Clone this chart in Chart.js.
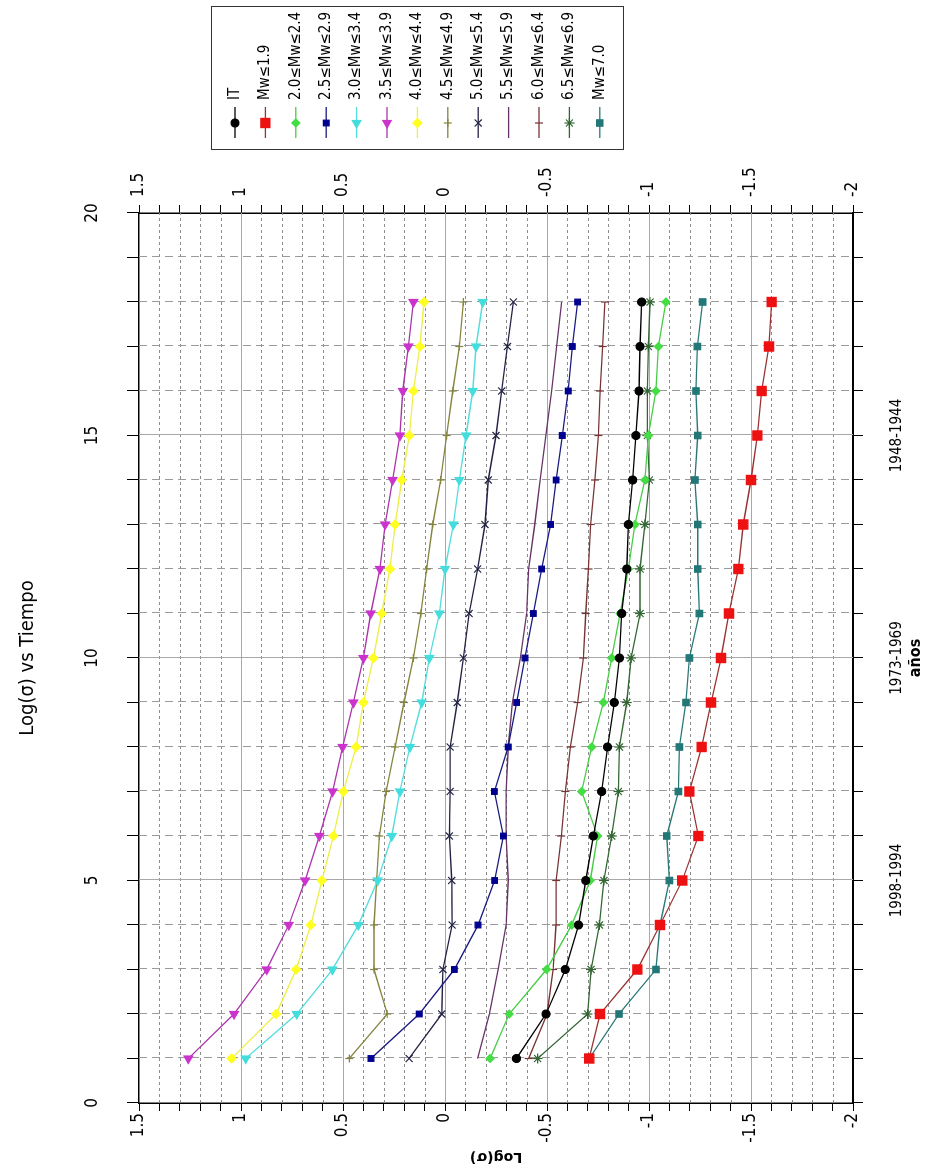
<!DOCTYPE html>
<html>
<head>
<meta charset="utf-8">
<title>Log(σ) vs Tiempo</title>
<script src="https://cdn.jsdelivr.net/npm/chart.js@4.4.1/dist/chart.umd.min.js"></script>
<style>
  html, body { margin: 0; padding: 0; background: #fff; }
  body { width: 946px; height: 1169px; overflow: hidden; position: relative; }
  /* the chart is drawn upright and then turned a quarter to the left */
  #turn { position: absolute; left: 0; top: 0; width: 1169px; height: 946px;
          transform-origin: 0 0; transform: translate(0px, 1169px) rotate(-90deg); }
  #chart { display: block; }
</style>
</head>
<body>
<div id="turn"><canvas id="chart" width="1169" height="946"></canvas></div>
<script>
'use strict';

// x values (steps) and the period labels under the axis
const steps = [1, 2, 3, 4, 5, 6, 7, 8, 9, 10, 11, 12, 13, 14, 15, 16, 17, 18];
const periodTicks = {5: '1998-1994', 10: '1973-1969', 15: '1948-1944'};

const seriesLabels = ['IT', 'Mw≤1.9', '2.0≤Mw≤2.4', '2.5≤Mw≤2.9', '3.0≤Mw≤3.4', '3.5≤Mw≤3.9',
  '4.0≤Mw≤4.4', '4.5≤Mw≤4.9', '5.0≤Mw≤5.4', '5.5≤Mw≤5.9', '6.0≤Mw≤6.4', '6.5≤Mw≤6.9', 'Mw≤7.0'];

const logIT    = [-0.35, -0.495, -0.59, -0.655, -0.69, -0.727, -0.768, -0.797, -0.83, -0.855, -0.866, -0.891, -0.899, -0.92, -0.936, -0.951, -0.956, -0.964];
const logMw19  = [-0.707, -0.76, -0.943, -1.054, -1.163, -1.242, -1.198, -1.258, -1.304, -1.353, -1.392, -1.438, -1.462, -1.5, -1.531, -1.552, -1.588, -1.601];
const logMw20  = [-0.221, -0.315, -0.498, -0.621, -0.712, -0.748, -0.67, -0.719, -0.776, -0.817, -0.858, -0.899, -0.931, -0.98, -0.997, -1.034, -1.046, -1.083];
const logMw25  = [0.363, 0.126, -0.046, -0.162, -0.243, -0.286, -0.242, -0.31, -0.351, -0.392, -0.433, -0.474, -0.518, -0.545, -0.575, -0.604, -0.624, -0.65];
const logMw30  = [0.977, 0.727, 0.552, 0.425, 0.33, 0.261, 0.221, 0.172, 0.114, 0.077, 0.028, 0.0, -0.041, -0.07, -0.103, -0.136, -0.152, -0.185];
const logMw35  = [1.258, 1.034, 0.874, 0.766, 0.686, 0.616, 0.551, 0.502, 0.449, 0.4, 0.364, 0.319, 0.294, 0.257, 0.221, 0.207, 0.18, 0.155];
const logMw40  = [1.046, 0.828, 0.73, 0.658, 0.604, 0.547, 0.498, 0.436, 0.4, 0.351, 0.31, 0.27, 0.245, 0.212, 0.175, 0.155, 0.123, 0.103];
const logMw45  = [0.469, 0.283, 0.348, 0.348, 0.335, 0.322, 0.289, 0.245, 0.201, 0.155, 0.118, 0.09, 0.06, 0.021, -0.008, -0.038, -0.07, -0.09];
const logMw50  = [0.176, 0.016, 0.01, -0.035, -0.033, -0.021, -0.025, -0.025, -0.06, -0.09, -0.118, -0.16, -0.196, -0.212, -0.25, -0.278, -0.306, -0.335];
const logMw55  = [-0.16, -0.217, -0.26, -0.3, -0.31, -0.3, -0.3, -0.31, -0.33, -0.37, -0.4, -0.41, -0.44, -0.466, -0.495, -0.523, -0.547, -0.572];
const logMw60  = [-0.41, -0.5, -0.53, -0.544, -0.545, -0.57, -0.59, -0.615, -0.65, -0.678, -0.69, -0.703, -0.714, -0.735, -0.752, -0.76, -0.773, -0.784];
const logMw65  = [-0.454, -0.699, -0.716, -0.757, -0.779, -0.817, -0.85, -0.855, -0.891, -0.912, -0.956, -0.956, -0.98, -1.002, -0.992, -0.992, -0.997, -1.005];
const logMw70  = [-0.707, -0.853, -1.034, -1.054, -1.1, -1.087, -1.144, -1.149, -1.181, -1.198, -1.247, -1.239, -1.239, -1.225, -1.239, -1.23, -1.237, -1.263];

const seriesValues = [logIT, logMw19, logMw20, logMw25, logMw30, logMw35, logMw40, logMw45, logMw50, logMw55, logMw60, logMw65, logMw70];

// line colour, marker colour, marker shape, radius, rotation
const seriesStyles = [
  ['#000000', '#000000', 'circle', 4, 0],
  ['#993333', '#ee1111', 'rect', 6.5, 0],
  ['#44cc44', '#44dd44', 'rectRot', 4, 0],
  ['#1a1a80', '#000090', 'rect', 4, 0],
  ['#55dddd', '#44dddd', 'triangle', 5, -90],
  ['#aa33aa', '#cc33cc', 'triangle', 5, -90],
  ['#eeee44', '#ffff22', 'rectRot', 4.5, 0],
  ['#858540', '#858540', 'cross', 4, 0],
  ['#222244', '#222244', 'crossRot', 5, 0],
  ['#663366', '#663366', 'circle', 0, 0],
  ['#773333', '#773333', 'line', 4, 90],
  ['#336633', '#336633', 'star', 5, 0],
  ['#2a7777', '#227777', 'rect', 4.5, 0]
];

const FONT = "'Liberation Sans Narrow', 'DejaVu Sans Condensed', 'Arial Narrow', sans-serif";

const datasets = seriesLabels.map(function(label, i) {
  const st = seriesStyles[i];
  return {
    label: label,
    data: steps.map(function(x, j) { return {x: x, y: seriesValues[i][j]}; }),
    borderColor: st[0],
    borderWidth: 1.3,
    pointBackgroundColor: st[1],
    pointBorderColor: st[1],
    pointBorderWidth: 1.2,
    pointStyle: st[2],
    pointRadius: st[3],
    pointRotation: st[4],
    tension: 0,
    fill: false
  };
});


// grid lines: solid at 0.5 / 5, dotted and dashed in between
const gridLines = {
  id: 'gridLines',
  beforeDatasetsDraw(chart) {
    const ctx = chart.ctx;
    const area = chart.chartArea;
    const ys = chart.scales.y;
    const xs = chart.scales.x;
    ctx.save();
    ctx.lineWidth = 1;

    ys.ticks.forEach(function(t) {
      if (t.value <= ys.min || t.value >= ys.max) return;
      const major = Math.round(t.value * 10) % 5 === 0;
      const py = Math.round(ys.getPixelForValue(t.value)) + 0.5;
      ctx.strokeStyle = major ? '#a8a8a8' : '#8c8c8c';
      ctx.setLineDash(major ? [] : [3, 3]);
      ctx.beginPath();
      ctx.moveTo(area.left, py);
      ctx.lineTo(area.right, py);
      ctx.stroke();
    });

    xs.ticks.forEach(function(t) {
      if (t.value <= xs.min || t.value >= xs.max) return;
      const major = t.value % 5 === 0;
      const px = Math.round(xs.getPixelForValue(t.value)) + 0.5;
      ctx.strokeStyle = major ? '#a8a8a8' : '#9a9a9a';
      ctx.setLineDash(major ? [] : [8, 5]);
      ctx.beginPath();
      ctx.moveTo(px, area.top);
      ctx.lineTo(px, area.bottom);
      ctx.stroke();
    });
    ctx.restore();
  }
};


// boxed legend to the right of the plot
const legendBox = {
  id: 'legendBox',
  afterDraw(chart) {
    const ctx = chart.ctx;
    ctx.save();
    ctx.strokeStyle = '#333';
    ctx.lineWidth = 1;
    ctx.strokeRect(1019.5, 211.5, 143, 412);
    ctx.font = '15px ' + FONT;
    ctx.textBaseline = 'middle';
    ctx.textAlign = 'left';

    chart.data.datasets.forEach(function(ds, i) {
      const y = 235 + i * 30.4;
      ctx.strokeStyle = ds.borderColor;
      ctx.lineWidth = 1.3;
      ctx.beginPath();
      ctx.moveTo(1031, y);
      ctx.lineTo(1062, y);
      ctx.stroke();
      if (ds.pointRadius > 0) {
        ctx.fillStyle = ds.pointBackgroundColor;
        ctx.strokeStyle = ds.pointBorderColor;
        ctx.lineWidth = ds.pointBorderWidth;
        if (Chart.helpers && Chart.helpers.drawPoint) {
          Chart.helpers.drawPoint(ctx, {
            pointStyle: ds.pointStyle,
            rotation: ds.pointRotation,
            radius: ds.pointRadius,
            borderWidth: ds.pointBorderWidth
          }, 1046, y);
        } else {
          ctx.fillRect(1043, y - 3, 6, 6);
        }
      }
      ctx.fillStyle = '#000';
      ctx.fillText(ds.label, 1069, y);
    });
    ctx.restore();
  }
};


const tickFont = {family: FONT, size: 17};

const ctx = document.getElementById('chart').getContext('2d');
const myChart = new Chart(ctx, {
  type: 'line',
  data: {datasets: datasets},
  plugins: [gridLines, legendBox],
  options: {
    responsive: false,
    devicePixelRatio: 1,
    animation: false,
    layout: {padding: {left: 0, right: 160, top: 0, bottom: 0}},
    plugins: {
      legend: {display: false},
      tooltip: {enabled: false}
    },
    scales: {
      x: {
        type: 'linear',
        position: 'top',
        min: 0,
        max: 20,
        afterFit: function(s) { s.height = 139; },
        ticks: {
          stepSize: 1,
          autoSkip: false,
          maxRotation: 0,
          padding: 24,
          color: '#000',
          font: tickFont,
          callback: function(v) { return v % 5 === 0 ? String(v) : ''; }
        },
        grid: {drawOnChartArea: false, tickLength: 12, color: '#000', tickColor: '#000'},
        border: {color: '#000', width: 1.5},
        title: {
          display: true,
          text: 'Log(σ) vs Tiempo',
          color: '#000',
          font: {family: FONT, size: 20},
          padding: {top: 16, bottom: 0}
        }
      },
      x2: {
        type: 'linear',
        position: 'bottom',
        min: 0,
        max: 20,
        afterFit: function(s) { s.height = 93; },
        ticks: {
          stepSize: 1,
          autoSkip: false,
          maxRotation: 0,
          padding: 25,
          color: '#000',
          font: {family: FONT, size: 15},
          callback: function(v) { return periodTicks[v] || ''; }
        },
        grid: {drawOnChartArea: false, tickLength: 10, color: '#000', tickColor: '#000'},
        border: {color: '#000', width: 2},
        title: {
          display: true,
          text: 'años',
          color: '#000',
          font: {family: FONT, size: 16, weight: 'bold'},
          padding: {top: 0, bottom: 21}
        }
      },
      y: {
        type: 'linear',
        position: 'left',
        min: -2,
        max: 1.5,
        afterFit: function(s) { s.width = 66; },
        ticks: {
          stepSize: 0.1,
          autoSkip: false,
          padding: 2,
          color: '#000',
          font: tickFont,
          callback: function(v) {
            const t = Math.round(v * 10);
            return t % 5 === 0 ? String(t / 10) : '';
          }
        },
        grid: {drawOnChartArea: false, tickLength: 8, color: '#000', tickColor: '#000'},
        border: {color: '#000', width: 1.5},
        title: {
          display: true,
          text: 'Log(σ)',
          color: '#000',
          font: {family: "'DejaVu Sans', sans-serif", size: 14, weight: 'bold'},
          padding: {top: 4, bottom: 0}
        }
      },
      y2: {
        type: 'linear',
        position: 'right',
        min: -2,
        max: 1.5,
        afterFit: function(s) { s.width = 53; },
        ticks: {
          stepSize: 0.1,
          autoSkip: false,
          padding: 8,
          color: '#000',
          font: tickFont,
          callback: function(v) {
            const t = Math.round(v * 10);
            return t % 5 === 0 ? String(t / 10) : '';
          }
        },
        grid: {drawOnChartArea: false, tickLength: 8, color: '#000', tickColor: '#000'},
        border: {color: '#000', width: 1.5}
      }
    }
  }
});
</script>
</body>
</html>
